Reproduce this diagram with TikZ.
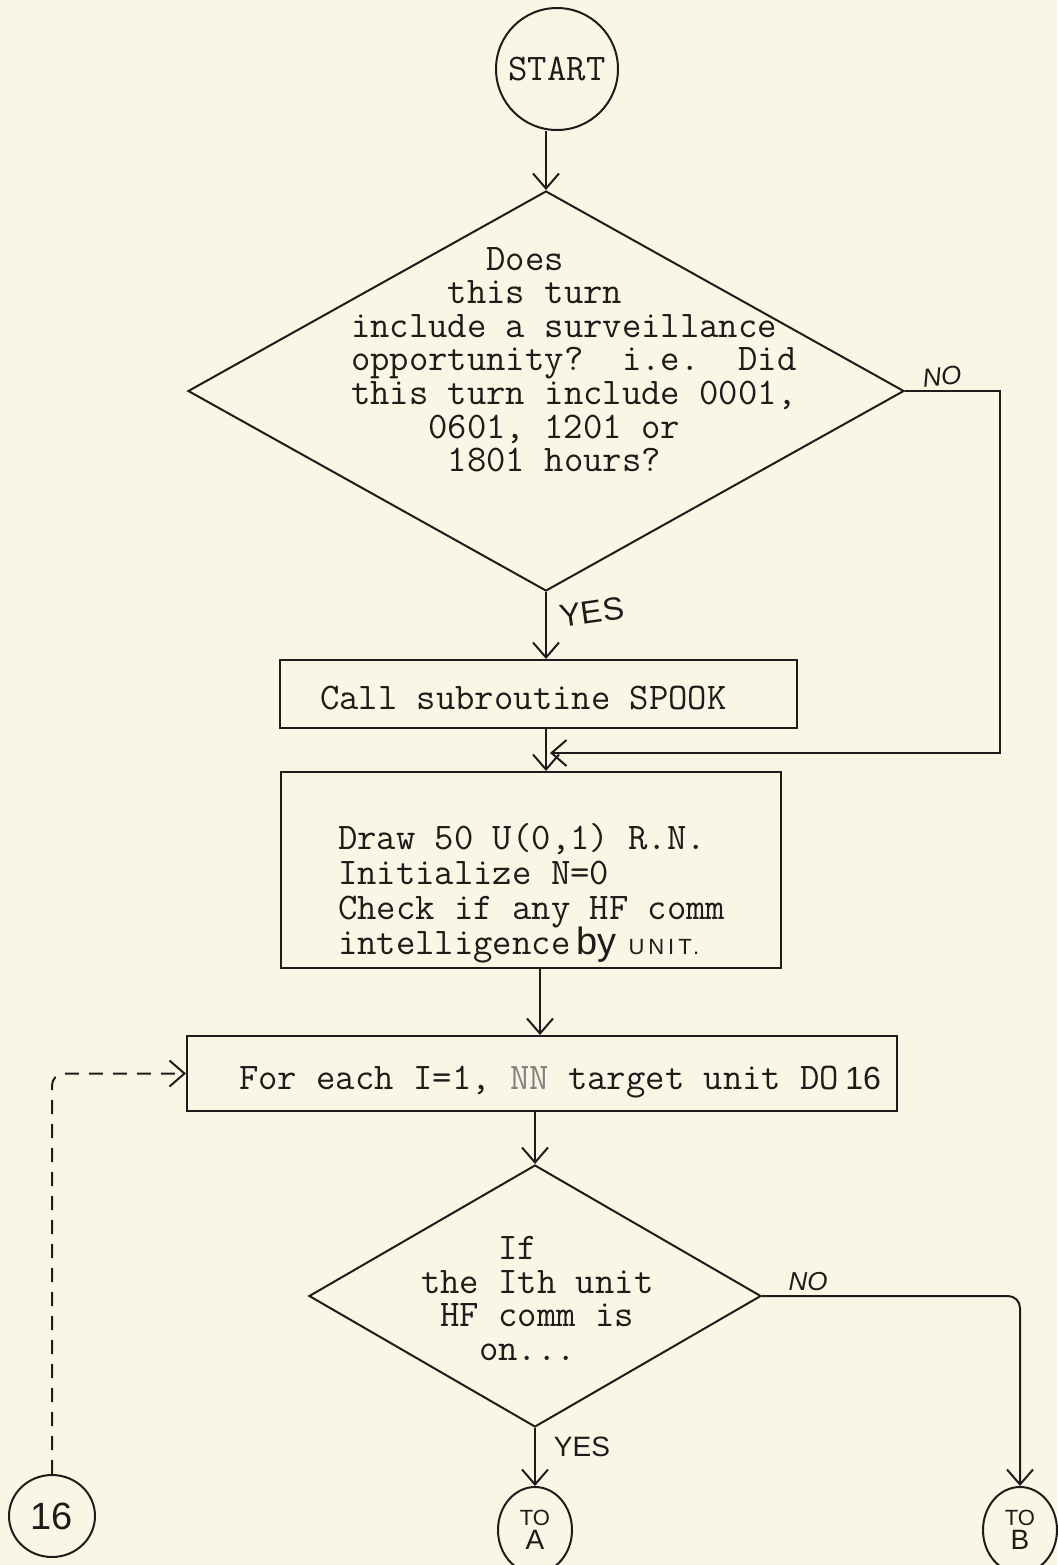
\documentclass[tikz,border=0pt]{standalone}
\usepackage{fontspec}
\newfontfamily\handf{Liberation Sans}
\usetikzlibrary{arrows.meta,shapes.geometric}
\definecolor{paper}{HTML}{FAF6E6}
\definecolor{ink}{HTML}{1E1C1A}
\begin{document}
\begin{tikzpicture}[x=0.5pt,y=-0.5pt,line width=1pt,color=ink,
  arr/.style={-{Straight Barb[length=7.5pt,width=13pt,line width=1pt]}},
  loopdash/.style={dash pattern=on 7pt off 5pt},
  twfont/.style={font={\ttfamily\fontsize{18.8}{16.8}\selectfont\lineskiplimit=-20pt\frenchspacing}},
  tw/.style={twfont,inner sep=0pt,anchor=west,align=left},
  hw/.style={inner sep=0pt},
  boxs/.style={draw,rectangle,inner sep=0pt},
  dia/.style={draw,diamond,inner sep=0pt},
  term/.style={draw,ellipse,inner sep=0pt,align=center}]
\fill[paper] (0,0) rectangle (1057,1565);
\useasboundingbox (0,0) rectangle (1057,1565);

% start
\node[draw,circle,minimum size=61pt,inner sep=0pt,twfont] (start) at (557,69) {START};

% decision 1
\node[dia,minimum width=358pt,minimum height=200pt] (d1) at (546,391) {};
\node[tw] (d1t) at (350,359.5) {\phantom{0000000}Does\\
\phantom{00000}this turn\\
include a surveillance\\
opportunity?\ \ i.e.\ \ Did\\
this turn include 0001,\\
\phantom{0000}0601, 1201 or\\
\phantom{00000}1801 hours?};

% process boxes
\node[boxs,minimum width=258.5pt,minimum height=34pt] (b1) at (538.5,694) {};
\node[tw] (b1t) at (319,698) {Call subroutine SPOOK};

\node[boxs,minimum width=250pt,minimum height=98pt] (b2) at (531,870) {};
\node[tw,font={\ttfamily\fontsize{18.8}{17.5}\selectfont\lineskiplimit=-20pt\frenchspacing}] (b2t) at (337,893) {Draw 50 U(0,1) R.N.\\
Initialize N=0\\
Check if any HF comm\\
intelligence\kern3pt{\handf\fontsize{19}{17}\selectfont by}\kern6pt{\handf\fontsize{11}{11}\selectfont\addfontfeature{LetterSpace=18}UNIT.}};

\node[boxs,minimum width=355pt,minimum height=37.5pt] (b3) at (542,1073.5) {};
\node[tw] (b3t) at (238,1082) {For each I=1, {\color{ink!55}NN} target unit DO\kern3pt{\handf\fontsize{16}{16}\selectfont 16}};

% decision 2
\node[dia,minimum width=226pt,minimum height=131pt] (d2) at (535,1296) {};
\node[tw] (d2t) at (420,1298.5) {\phantom{0000}If\\
the Ith unit\\
\phantom{0}HF comm is\\
\phantom{000}on...};

% terminals
\node[term,minimum width=43pt,minimum height=41pt,font={\handf\fontsize{19}{19}\selectfont}] (c16) at (52,1516) {16};
\node[term,minimum width=37pt,minimum height=43pt,font={\handf\fontsize{14}{12}\selectfont}] (toA) at (535,1530) {{\fontsize{11}{10}\selectfont TO}\\A};
\node[term,minimum width=37pt,minimum height=43pt,font={\handf\fontsize{14}{12}\selectfont}] (toB) at (1020,1530) {{\fontsize{11}{10}\selectfont TO}\\B};

% labels
\node[hw,rotate=8,font={\handf\fontsize{16}{16}\selectfont}] (yes1) at (592,612) {YES};
\node[hw,rotate=6,font={\handf\fontsize{13}{13}\selectfont\itshape}] (no1) at (942,377) {NO};
\node[hw,font={\handf\fontsize{13}{13}\selectfont\itshape}] (no2) at (808,1282) {NO};
\node[hw,font={\handf\fontsize{14}{14}\selectfont}] (yes2) at (582,1447) {YES};

% flow lines
\coordinate (nocorner) at (1000,753);
\coordinate (j1) at (550,753);
\draw[arr] (d1.north |- start.south) -- (d1.north);
\draw[arr] (d1.south) -- (d1.south |- b1.north);
\draw[arr] (d1.south |- b1.south) -- (d1.south |- b2.north);
\draw[arr] (d1.east) -| (nocorner) -- (j1);
\draw[arr] ([xshift=4.5pt]b2.south) -- ([xshift=4.5pt]b2.south |- b3.north);
\draw[arr] (d2.north |- b3.south) -- (d2.north);
\draw[arr] (d2.south) -- (toA.north);
\draw[arr,rounded corners=6pt] (d2.east) -| (toB.north);
\draw[arr,loopdash,rounded corners=6pt] (c16.north) |- (b3.west);
\end{tikzpicture}
\end{document}
